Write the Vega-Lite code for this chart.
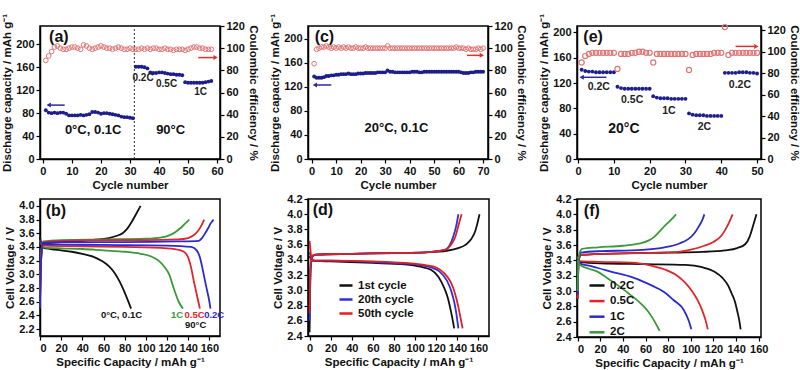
{
"$schema":"https://vega.github.io/schema/vega-lite/v6.json",
"background":"white",
"padding":{"left":0,"top":12,"right":0,"bottom":0},
"bounds":"flush",
"columns":3,
"spacing":{"row":40,"column":88},
"resolve":{"scale":{"color":"independent","x":"independent","y":"independent"}},
"concat":[
{
 "width":180,"height":133,
 "encoding":{"x":{"field":"c","type":"quantitative","scale":{"domain":[-1,61],"nice":false},"axis":{"values":[0,10,20,30,40,50,60],"title":"Cycle number"}}},
 "layer":[
  {"encoding":{"y":{"field":"v","type":"quantitative","scale":{"domain":[0,232],"nice":false},"axis":{"orient":"left","values":[0,40,80,120,160,200],"title":"Discharge capacity / mAh g⁻¹"}}},
   "layer":[
    {"data":{"values":[{"c":31.5,"v":0,"v2":232}]},"mark":{"type":"rule","strokeDash":[2,2],"color":"#333","strokeWidth":1},"encoding":{"y2":{"field":"v2"}}},
    {"data":{"values":[{"c":1,"v":85},{"c":2,"v":81},{"c":3,"v":80},{"c":4,"v":81},{"c":5,"v":80},{"c":6,"v":81},{"c":7,"v":81},{"c":8,"v":79},{"c":9,"v":76},{"c":10,"v":76},{"c":11,"v":76},{"c":12,"v":76},{"c":13,"v":77},{"c":14,"v":76},{"c":15,"v":77},{"c":16,"v":78},{"c":17,"v":82},{"c":18,"v":82},{"c":19,"v":81},{"c":20,"v":79},{"c":21,"v":80},{"c":22,"v":80},{"c":23,"v":79},{"c":24,"v":78},{"c":25,"v":77},{"c":26,"v":76},{"c":27,"v":74},{"c":28,"v":73},{"c":29,"v":73},{"c":30,"v":72},{"c":31,"v":71},
      {"c":32,"v":161},{"c":33,"v":161},{"c":34,"v":161},{"c":35,"v":160},{"c":36,"v":158},{"c":37,"v":151},{"c":38,"v":150},{"c":39,"v":150},{"c":40,"v":151},{"c":41,"v":151},{"c":42,"v":150},{"c":43,"v":149},{"c":44,"v":148},{"c":45,"v":148},{"c":46,"v":147},{"c":47,"v":147},{"c":48,"v":146},{"c":49,"v":134},{"c":50,"v":133},{"c":51,"v":133},{"c":52,"v":133},{"c":53,"v":133},{"c":54,"v":133},{"c":55,"v":133},{"c":56,"v":134},{"c":57,"v":135},{"c":58,"v":136}]},
     "mark":{"type":"circle","color":"#1d1d8c","size":15,"opacity":1}},
    {"data":{"values":[{"c":2,"c2":7.5,"v":94}]},"mark":{"type":"rule","color":"#2a2aa0","strokeWidth":1.5},"encoding":{"x2":{"field":"c2"}}},
    {"data":{"values":[{"c":2,"v":94}]},"mark":{"type":"point","shape":"triangle-left","filled":true,"color":"#2a2aa0","size":25,"opacity":1}},
    {"data":{"values":[{"c":5.5,"v":212,"t":"(a)"}]},"mark":{"type":"text","fontSize":16,"fontWeight":"bold","color":"#111"},"encoding":{"text":{"field":"t"}}},
    {"data":{"values":[{"c":17.3,"v":51,"t":"0°C, 0.1C"},{"c":44,"v":51,"t":"90°C"}]},"mark":{"type":"text","fontSize":13,"fontWeight":"bold","color":"#111"},"encoding":{"text":{"field":"t"}}},
    {"data":{"values":[{"c":34.5,"v":141,"t":"0.2C"},{"c":42.6,"v":131,"t":"0.5C"},{"c":54.3,"v":117,"t":"1C"}]},"mark":{"type":"text","fontSize":10,"fontWeight":"bold","color":"#222"},"encoding":{"text":{"field":"t"}}}
   ]},
  {"encoding":{"y":{"field":"e","type":"quantitative","scale":{"domain":[0,120],"nice":false},"axis":{"orient":"right","values":[0,20,40,60,80,100,120],"title":"Coulombic efficiency / %"}}},
   "layer":[
    {"data":{"values":[{"c":1,"e":89},{"c":2,"e":93},{"c":3,"e":97},{"c":4,"e":101},{"c":5,"e":102},{"c":6,"e":100},{"c":7,"e":99},{"c":8,"e":99},{"c":9,"e":100},{"c":10,"e":101},{"c":11,"e":101},{"c":12,"e":100},{"c":13,"e":99},{"c":14,"e":103},{"c":15,"e":102},{"c":16,"e":100},{"c":17,"e":99},{"c":18,"e":100},{"c":19,"e":101},{"c":20,"e":102},{"c":21,"e":101},{"c":22,"e":100},{"c":23,"e":100},{"c":24,"e":99},{"c":25,"e":100},{"c":26,"e":101},{"c":27,"e":100},{"c":28,"e":99},{"c":29,"e":99},{"c":30,"e":100},{"c":31,"e":99},{"c":32,"e":99},{"c":33,"e":99},{"c":34,"e":100},{"c":35,"e":99},{"c":36,"e":100},{"c":37,"e":99},{"c":38,"e":100},{"c":39,"e":100},{"c":40,"e":99},{"c":41,"e":99},{"c":42,"e":100},{"c":43,"e":99},{"c":44,"e":99},{"c":45,"e":98},{"c":46,"e":99},{"c":47,"e":99},{"c":48,"e":99},{"c":49,"e":98},{"c":50,"e":99},{"c":51,"e":100},{"c":52,"e":101},{"c":53,"e":101},{"c":54,"e":100},{"c":55,"e":100},{"c":56,"e":99},{"c":57,"e":99},{"c":58,"e":99}]},
     "mark":{"type":"point","shape":"circle","filled":false,"color":"#e07575","size":22,"strokeWidth":1,"opacity":1}},
    {"data":{"values":[{"c":53.5,"c2":59,"e":91.5}]},"mark":{"type":"rule","color":"#e03030","strokeWidth":1.5},"encoding":{"x2":{"field":"c2"}}},
    {"data":{"values":[{"c":59.5,"e":91.5}]},"mark":{"type":"point","shape":"triangle-right","filled":true,"color":"#e03030","size":25,"opacity":1}}
   ]}
 ],
 "resolve":{"scale":{"y":"independent"}}
},
{
 "width":180,"height":133,
 "encoding":{"x":{"field":"c","type":"quantitative","scale":{"domain":[-1.5,72],"nice":false},"axis":{"values":[0,10,20,30,40,50,60,70],"title":"Cycle number"}}},
 "layer":[
  {"encoding":{"y":{"field":"v","type":"quantitative","scale":{"domain":[0,221],"nice":false},"axis":{"orient":"left","values":[0,40,80,120,160,200],"title":"Discharge capacity / mAh g⁻¹"}}},
   "layer":[
    {"data":{"values":[{"c":1,"v":137},{"c":2,"v":135},{"c":3,"v":135},{"c":4,"v":135},{"c":5,"v":136},{"c":6,"v":138},{"c":7,"v":138},{"c":8,"v":139},{"c":9,"v":139},{"c":10,"v":140},{"c":11,"v":140},{"c":12,"v":141},{"c":13,"v":141},{"c":14,"v":141},{"c":15,"v":142},{"c":16,"v":141},{"c":17,"v":141},{"c":18,"v":141},{"c":19,"v":142},{"c":20,"v":142},{"c":21,"v":142},{"c":22,"v":143},{"c":23,"v":143},{"c":24,"v":143},{"c":25,"v":143},{"c":26,"v":143},{"c":27,"v":144},{"c":28,"v":144},{"c":29,"v":144},{"c":30,"v":144},{"c":31,"v":147},{"c":32,"v":145},{"c":33,"v":145},{"c":34,"v":144},{"c":35,"v":144},{"c":36,"v":144},{"c":37,"v":144},{"c":38,"v":144},{"c":39,"v":144},{"c":40,"v":144},{"c":41,"v":145},{"c":42,"v":145},{"c":43,"v":145},{"c":44,"v":144},{"c":45,"v":144},{"c":46,"v":145},{"c":47,"v":145},{"c":48,"v":145},{"c":49,"v":145},{"c":50,"v":145},{"c":51,"v":145},{"c":52,"v":145},{"c":53,"v":145},{"c":54,"v":145},{"c":55,"v":145},{"c":56,"v":145},{"c":57,"v":145},{"c":58,"v":145},{"c":59,"v":145},{"c":60,"v":145},{"c":61,"v":144},{"c":62,"v":143},{"c":63,"v":143},{"c":64,"v":143},{"c":65,"v":144},{"c":66,"v":144},{"c":67,"v":145},{"c":68,"v":145},{"c":69,"v":145},{"c":70,"v":145}]},
     "mark":{"type":"circle","color":"#1d1d8c","size":15,"opacity":1}},
    {"data":{"values":[{"c":1.5,"c2":8,"v":123}]},"mark":{"type":"rule","color":"#2a2aa0","strokeWidth":1.5},"encoding":{"x2":{"field":"c2"}}},
    {"data":{"values":[{"c":1.3,"v":123}]},"mark":{"type":"point","shape":"triangle-left","filled":true,"color":"#2a2aa0","size":25,"opacity":1}},
    {"data":{"values":[{"c":5.2,"v":203,"t":"(c)"}]},"mark":{"type":"text","fontSize":16,"fontWeight":"bold","color":"#111"},"encoding":{"text":{"field":"t"}}},
    {"data":{"values":[{"c":34.6,"v":52,"t":"20°C, 0.1C"}]},"mark":{"type":"text","fontSize":13,"fontWeight":"bold","color":"#111"},"encoding":{"text":{"field":"t"}}}
   ]},
  {"encoding":{"y":{"field":"e","type":"quantitative","scale":{"domain":[0,120],"nice":false},"axis":{"orient":"right","values":[0,20,40,60,80,100,120],"title":"Coulombic efficiency / %"}}},
   "layer":[
    {"data":{"values":[{"c":1,"e":86},{"c":2,"e":99},{"c":3,"e":100},{"c":4,"e":101},{"c":5,"e":101},{"c":6,"e":102},{"c":7,"e":101},{"c":8,"e":100},{"c":9,"e":101},{"c":10,"e":100},{"c":11,"e":101},{"c":12,"e":100},{"c":13,"e":101},{"c":14,"e":100},{"c":15,"e":101},{"c":16,"e":100},{"c":17,"e":100},{"c":18,"e":101},{"c":19,"e":100},{"c":20,"e":100},{"c":21,"e":100},{"c":22,"e":101},{"c":23,"e":100},{"c":24,"e":100},{"c":25,"e":100},{"c":26,"e":100},{"c":27,"e":100},{"c":28,"e":100},{"c":29,"e":100},{"c":30,"e":100},{"c":31,"e":102},{"c":32,"e":100},{"c":33,"e":100},{"c":34,"e":100},{"c":35,"e":100},{"c":36,"e":100},{"c":37,"e":100},{"c":38,"e":100},{"c":39,"e":100},{"c":40,"e":100},{"c":41,"e":100},{"c":42,"e":100},{"c":43,"e":100},{"c":44,"e":100},{"c":45,"e":100},{"c":46,"e":100},{"c":47,"e":100},{"c":48,"e":100},{"c":49,"e":100},{"c":50,"e":100},{"c":51,"e":100},{"c":52,"e":100},{"c":53,"e":100},{"c":54,"e":100},{"c":55,"e":100},{"c":56,"e":100},{"c":57,"e":100},{"c":58,"e":100},{"c":59,"e":101},{"c":60,"e":100},{"c":61,"e":100},{"c":62,"e":100},{"c":63,"e":99},{"c":64,"e":100},{"c":65,"e":99},{"c":66,"e":99},{"c":67,"e":99},{"c":68,"e":100},{"c":69,"e":99},{"c":70,"e":100}]},
     "mark":{"type":"point","shape":"circle","filled":false,"color":"#e07575","size":22,"strokeWidth":1,"opacity":1}},
    {"data":{"values":[{"c":63.4,"c2":69,"e":93.5}]},"mark":{"type":"rule","color":"#e03030","strokeWidth":1.5},"encoding":{"x2":{"field":"c2"}}},
    {"data":{"values":[{"c":69.5,"e":93.5}]},"mark":{"type":"point","shape":"triangle-right","filled":true,"color":"#e03030","size":25,"opacity":1}}
   ]}
 ],
 "resolve":{"scale":{"y":"independent"}}
},
{
 "width":184,"height":133,
 "encoding":{"x":{"field":"c","type":"quantitative","scale":{"domain":[-0.3,51.1],"nice":false},"axis":{"values":[0,10,20,30,40,50],"title":"Cycle number"}}},
 "layer":[
  {"encoding":{"y":{"field":"v","type":"quantitative","scale":{"domain":[0,210],"nice":false},"axis":{"orient":"left","values":[0,40,80,120,160,200],"title":"Discharge capacity / mAh g⁻¹"}}},
   "layer":[
    {"data":{"values":[{"c":1,"v":141},{"c":2,"v":139},{"c":3,"v":138},{"c":4,"v":138},{"c":5,"v":137},{"c":6,"v":137},{"c":7,"v":137},{"c":8,"v":137},{"c":9,"v":137},{"c":10,"v":137},{"c":11,"v":114},{"c":12,"v":112},{"c":13,"v":111},{"c":14,"v":111},{"c":15,"v":111},{"c":16,"v":111},{"c":17,"v":111},{"c":18,"v":111},{"c":19,"v":111},{"c":20,"v":111},{"c":21,"v":99},{"c":22,"v":97},{"c":23,"v":96},{"c":24,"v":96},{"c":25,"v":96},{"c":26,"v":95},{"c":27,"v":95},{"c":28,"v":95},{"c":29,"v":95},{"c":30,"v":95},{"c":31,"v":72},{"c":32,"v":70},{"c":33,"v":69},{"c":34,"v":69},{"c":35,"v":69},{"c":36,"v":68},{"c":37,"v":68},{"c":38,"v":68},{"c":39,"v":68},{"c":40,"v":68},{"c":41,"v":136},{"c":42,"v":136},{"c":43,"v":136},{"c":44,"v":136},{"c":45,"v":137},{"c":46,"v":137},{"c":47,"v":137},{"c":48,"v":136},{"c":49,"v":136},{"c":50,"v":135}]},
     "mark":{"type":"circle","color":"#1d1d8c","size":15,"opacity":1}},
    {"data":{"values":[{"c":1.2,"c2":7.9,"v":129}]},"mark":{"type":"rule","color":"#2a2aa0","strokeWidth":1.5},"encoding":{"x2":{"field":"c2"}}},
    {"data":{"values":[{"c":1,"v":129}]},"mark":{"type":"point","shape":"triangle-left","filled":true,"color":"#2a2aa0","size":25,"opacity":1}},
    {"data":{"values":[{"c":4.2,"v":193,"t":"(e)"}]},"mark":{"type":"text","fontSize":16,"fontWeight":"bold","color":"#111"},"encoding":{"text":{"field":"t"}}},
    {"data":{"values":[{"c":12.8,"v":48,"t":"20°C"}]},"mark":{"type":"text","fontSize":14,"fontWeight":"bold","color":"#111"},"encoding":{"text":{"field":"t"}}},
    {"data":{"values":[{"c":5.8,"v":113,"t":"0.2C"},{"c":15.1,"v":93,"t":"0.5C"},{"c":25.4,"v":76,"t":"1C"},{"c":35.3,"v":50,"t":"2C"},{"c":45.2,"v":117,"t":"0.2C"}]},"mark":{"type":"text","fontSize":10.5,"fontWeight":"bold","color":"#222"},"encoding":{"text":{"field":"t"}}}
   ]},
  {"encoding":{"y":{"field":"e","type":"quantitative","scale":{"domain":[0,124],"nice":false},"axis":{"orient":"right","values":[0,20,40,60,80,100,120],"title":"Coulombic efficiency / %"}}},
   "layer":[
    {"data":{"values":[{"c":1,"e":90},{"c":2,"e":96},{"c":3,"e":98},{"c":4,"e":99},{"c":5,"e":99},{"c":6,"e":99},{"c":7,"e":99},{"c":8,"e":99},{"c":9,"e":99},{"c":10,"e":99},{"c":11,"e":84},{"c":12,"e":98},{"c":13,"e":98},{"c":14,"e":98},{"c":15,"e":99},{"c":16,"e":99},{"c":17,"e":100},{"c":18,"e":100},{"c":19,"e":99},{"c":20,"e":99},{"c":21,"e":90},{"c":22,"e":98},{"c":23,"e":98},{"c":24,"e":98},{"c":25,"e":98},{"c":26,"e":98},{"c":27,"e":98},{"c":28,"e":98},{"c":29,"e":98},{"c":30,"e":98},{"c":31,"e":83},{"c":32,"e":97},{"c":33,"e":98},{"c":34,"e":98},{"c":35,"e":98},{"c":36,"e":98},{"c":37,"e":98},{"c":38,"e":99},{"c":39,"e":99},{"c":40,"e":99},{"c":41,"e":123},{"c":42,"e":97},{"c":43,"e":99},{"c":44,"e":99},{"c":45,"e":99},{"c":46,"e":99},{"c":47,"e":99},{"c":48,"e":99},{"c":49,"e":99},{"c":50,"e":99}]},
     "mark":{"type":"point","shape":"circle","filled":false,"color":"#e07575","size":26,"strokeWidth":1.2,"opacity":1}},
    {"data":{"values":[{"c":44,"c2":49.3,"e":105}]},"mark":{"type":"rule","color":"#e03030","strokeWidth":1.5},"encoding":{"x2":{"field":"c2"}}},
    {"data":{"values":[{"c":49.8,"e":105}]},"mark":{"type":"point","shape":"triangle-right","filled":true,"color":"#e03030","size":25,"opacity":1}}
   ]}
 ],
 "resolve":{"scale":{"y":"independent"}}
},
{
 "width":180,"height":137,
 "encoding":{
  "x":{"field":"x","type":"quantitative","scale":{"domain":[0,170],"nice":false},"axis":{"values":[0,20,40,60,80,100,120,140,160],"title":"Specific Capacity / mAh g⁻¹"}},
  "y":{"field":"y","type":"quantitative","scale":{"domain":[2.1,4.1],"nice":false,"zero":false},"axis":{"values":[2.2,2.4,2.6,2.8,3.0,3.2,3.4,3.6,3.8,4.0],"format":".1f","title":"Cell Voltage / V"}}},
 "layer":[
  {"data":{"values":[
   {"x":0,"y":2.6,"s":"0°C, 0.1C","k":"kc"},{"x":1,"y":3.2,"s":"0°C, 0.1C","k":"kc"},{"x":3,"y":3.44,"s":"0°C, 0.1C","k":"kc"},{"x":10,"y":3.46,"s":"0°C, 0.1C","k":"kc"},{"x":20,"y":3.47,"s":"0°C, 0.1C","k":"kc"},{"x":40,"y":3.49,"s":"0°C, 0.1C","k":"kc"},{"x":55,"y":3.51,"s":"0°C, 0.1C","k":"kc"},{"x":65,"y":3.53,"s":"0°C, 0.1C","k":"kc"},{"x":72,"y":3.56,"s":"0°C, 0.1C","k":"kc"},{"x":78,"y":3.6,"s":"0°C, 0.1C","k":"kc"},{"x":82,"y":3.66,"s":"0°C, 0.1C","k":"kc"},{"x":86,"y":3.75,"s":"0°C, 0.1C","k":"kc"},{"x":90,"y":3.86,"s":"0°C, 0.1C","k":"kc"},{"x":95,"y":4.0,"s":"0°C, 0.1C","k":"kc"},
   {"x":0,"y":3.55,"s":"0°C, 0.1C","k":"kd"},{"x":1,"y":3.45,"s":"0°C, 0.1C","k":"kd"},{"x":3,"y":3.39,"s":"0°C, 0.1C","k":"kd"},{"x":10,"y":3.37,"s":"0°C, 0.1C","k":"kd"},{"x":20,"y":3.35,"s":"0°C, 0.1C","k":"kd"},{"x":30,"y":3.33,"s":"0°C, 0.1C","k":"kd"},{"x":40,"y":3.3,"s":"0°C, 0.1C","k":"kd"},{"x":50,"y":3.26,"s":"0°C, 0.1C","k":"kd"},{"x":58,"y":3.2,"s":"0°C, 0.1C","k":"kd"},{"x":65,"y":3.12,"s":"0°C, 0.1C","k":"kd"},{"x":70,"y":3.03,"s":"0°C, 0.1C","k":"kd"},{"x":75,"y":2.9,"s":"0°C, 0.1C","k":"kd"},{"x":79,"y":2.77,"s":"0°C, 0.1C","k":"kd"},{"x":83,"y":2.62,"s":"0°C, 0.1C","k":"kd"},{"x":86,"y":2.5,"s":"0°C, 0.1C","k":"kd"},
   {"x":0,"y":2.7,"s":"1C","k":"gc"},{"x":1,"y":3.3,"s":"1C","k":"gc"},{"x":3,"y":3.48,"s":"1C","k":"gc"},{"x":20,"y":3.5,"s":"1C","k":"gc"},{"x":60,"y":3.51,"s":"1C","k":"gc"},{"x":100,"y":3.52,"s":"1C","k":"gc"},{"x":115,"y":3.54,"s":"1C","k":"gc"},{"x":122,"y":3.57,"s":"1C","k":"gc"},{"x":128,"y":3.62,"s":"1C","k":"gc"},{"x":133,"y":3.68,"s":"1C","k":"gc"},{"x":137,"y":3.74,"s":"1C","k":"gc"},{"x":141,"y":3.8,"s":"1C","k":"gc"},
   {"x":0,"y":3.5,"s":"1C","k":"gd"},{"x":2,"y":3.42,"s":"1C","k":"gd"},{"x":5,"y":3.39,"s":"1C","k":"gd"},{"x":20,"y":3.38,"s":"1C","k":"gd"},{"x":40,"y":3.37,"s":"1C","k":"gd"},{"x":60,"y":3.35,"s":"1C","k":"gd"},{"x":80,"y":3.33,"s":"1C","k":"gd"},{"x":95,"y":3.3,"s":"1C","k":"gd"},{"x":105,"y":3.26,"s":"1C","k":"gd"},{"x":112,"y":3.2,"s":"1C","k":"gd"},{"x":118,"y":3.1,"s":"1C","k":"gd"},{"x":122,"y":3.0,"s":"1C","k":"gd"},{"x":125,"y":2.86,"s":"1C","k":"gd"},{"x":128,"y":2.72,"s":"1C","k":"gd"},{"x":131,"y":2.6,"s":"1C","k":"gd"},{"x":135,"y":2.5,"s":"1C","k":"gd"},
   {"x":0,"y":2.6,"s":"0.5C","k":"rc"},{"x":1,"y":3.3,"s":"0.5C","k":"rc"},{"x":3,"y":3.47,"s":"0.5C","k":"rc"},{"x":20,"y":3.49,"s":"0.5C","k":"rc"},{"x":60,"y":3.5,"s":"0.5C","k":"rc"},{"x":100,"y":3.5,"s":"0.5C","k":"rc"},{"x":130,"y":3.51,"s":"0.5C","k":"rc"},{"x":140,"y":3.53,"s":"0.5C","k":"rc"},{"x":145,"y":3.57,"s":"0.5C","k":"rc"},{"x":149,"y":3.63,"s":"0.5C","k":"rc"},{"x":152,"y":3.7,"s":"0.5C","k":"rc"},{"x":155,"y":3.8,"s":"0.5C","k":"rc"},
   {"x":0,"y":3.5,"s":"0.5C","k":"rd"},{"x":2,"y":3.44,"s":"0.5C","k":"rd"},{"x":5,"y":3.42,"s":"0.5C","k":"rd"},{"x":40,"y":3.41,"s":"0.5C","k":"rd"},{"x":80,"y":3.4,"s":"0.5C","k":"rd"},{"x":120,"y":3.38,"s":"0.5C","k":"rd"},{"x":133,"y":3.35,"s":"0.5C","k":"rd"},{"x":138,"y":3.3,"s":"0.5C","k":"rd"},{"x":141,"y":3.2,"s":"0.5C","k":"rd"},{"x":143,"y":3.08,"s":"0.5C","k":"rd"},{"x":145,"y":2.92,"s":"0.5C","k":"rd"},{"x":147,"y":2.78,"s":"0.5C","k":"rd"},{"x":149,"y":2.64,"s":"0.5C","k":"rd"},{"x":151,"y":2.5,"s":"0.5C","k":"rd"},
   {"x":0,"y":2.5,"s":"0.2C","k":"bc"},{"x":1,"y":3.2,"s":"0.2C","k":"bc"},{"x":3,"y":3.46,"s":"0.2C","k":"bc"},{"x":20,"y":3.47,"s":"0.2C","k":"bc"},{"x":80,"y":3.47,"s":"0.2C","k":"bc"},{"x":130,"y":3.48,"s":"0.2C","k":"bc"},{"x":150,"y":3.49,"s":"0.2C","k":"bc"},{"x":153,"y":3.53,"s":"0.2C","k":"bc"},{"x":156,"y":3.6,"s":"0.2C","k":"bc"},{"x":159,"y":3.68,"s":"0.2C","k":"bc"},{"x":161,"y":3.74,"s":"0.2C","k":"bc"},{"x":164,"y":3.8,"s":"0.2C","k":"bc"},
   {"x":0,"y":3.5,"s":"0.2C","k":"bd"},{"x":2,"y":3.45,"s":"0.2C","k":"bd"},{"x":5,"y":3.44,"s":"0.2C","k":"bd"},{"x":60,"y":3.43,"s":"0.2C","k":"bd"},{"x":120,"y":3.42,"s":"0.2C","k":"bd"},{"x":143,"y":3.4,"s":"0.2C","k":"bd"},{"x":148,"y":3.35,"s":"0.2C","k":"bd"},{"x":151,"y":3.25,"s":"0.2C","k":"bd"},{"x":153,"y":3.12,"s":"0.2C","k":"bd"},{"x":155,"y":2.97,"s":"0.2C","k":"bd"},{"x":157,"y":2.82,"s":"0.2C","k":"bd"},{"x":159,"y":2.68,"s":"0.2C","k":"bd"},{"x":160,"y":2.6,"s":"0.2C","k":"bd"},{"x":161,"y":2.5,"s":"0.2C","k":"bd"}
  ]},
   "mark":{"type":"line","strokeWidth":1.8,"interpolate":"monotone"},
   "encoding":{"color":{"field":"s","type":"nominal","scale":{"domain":["0°C, 0.1C","1C","0.5C","0.2C"],"range":["#111111","#3a9a3a","#e0262b","#2a2ad0"]},"legend":null},"detail":{"field":"k"}}},
  {"data":{"values":[{"x":15,"y":3.93,"t":"(b)"}]},"mark":{"type":"text","fontSize":16,"fontWeight":"bold","color":"#111"},"encoding":{"text":{"field":"t"}}},
  {"data":{"values":[{"x":77,"y":2.4,"t":"0°C, 0.1C","s":"0°C, 0.1C"},{"x":129.5,"y":2.4,"t":"1C","s":"1C"},{"x":146,"y":2.4,"t":"0.5C","s":"0.5C"},{"x":164.5,"y":2.4,"t":"0.2C","s":"0.2C"},{"x":147,"y":2.26,"t":"90°C","s":"0°C, 0.1C"}]},
   "mark":{"type":"text","fontSize":9.5,"fontWeight":"bold"},
   "encoding":{"text":{"field":"t"},"color":{"field":"s","type":"nominal","scale":{"domain":["0°C, 0.1C","1C","0.5C","0.2C"],"range":["#111111","#3a9a3a","#e0262b","#2a2ad0"]},"legend":null}}}
 ]
},
{
 "width":181,"height":137,
 "encoding":{
  "x":{"field":"x","type":"quantitative","scale":{"domain":[-1.5,170],"nice":false,"zero":false},"axis":{"values":[0,20,40,60,80,100,120,140,160],"title":"Specific Capacity / mAh g⁻¹"}},
  "y":{"field":"y","type":"quantitative","scale":{"domain":[2.4,4.2],"nice":false,"zero":false},"axis":{"values":[2.4,2.6,2.8,3.0,3.2,3.4,3.6,3.8,4.0,4.2],"format":".1f","title":"Cell Voltage / V"}}},
 "layer":[
  {"data":{"values":[
   {"x":0,"y":2.45,"s":"1st cycle","k":"kc"},{"x":1,"y":3.3,"s":"1st cycle","k":"kc"},{"x":3,"y":3.45,"s":"1st cycle","k":"kc"},{"x":6,"y":3.47,"s":"1st cycle","k":"kc"},{"x":40,"y":3.48,"s":"1st cycle","k":"kc"},{"x":80,"y":3.49,"s":"1st cycle","k":"kc"},{"x":110,"y":3.5,"s":"1st cycle","k":"kc"},{"x":130,"y":3.52,"s":"1st cycle","k":"kc"},{"x":140,"y":3.55,"s":"1st cycle","k":"kc"},{"x":148,"y":3.6,"s":"1st cycle","k":"kc"},{"x":153,"y":3.67,"s":"1st cycle","k":"kc"},{"x":157,"y":3.78,"s":"1st cycle","k":"kc"},{"x":159,"y":3.88,"s":"1st cycle","k":"kc"},{"x":161,"y":4.0,"s":"1st cycle","k":"kc"},
   {"x":0,"y":3.45,"s":"1st cycle","k":"kd"},{"x":3,"y":3.39,"s":"1st cycle","k":"kd"},{"x":20,"y":3.38,"s":"1st cycle","k":"kd"},{"x":60,"y":3.36,"s":"1st cycle","k":"kd"},{"x":90,"y":3.34,"s":"1st cycle","k":"kd"},{"x":105,"y":3.31,"s":"1st cycle","k":"kd"},{"x":115,"y":3.27,"s":"1st cycle","k":"kd"},{"x":122,"y":3.18,"s":"1st cycle","k":"kd"},{"x":127,"y":3.05,"s":"1st cycle","k":"kd"},{"x":131,"y":2.9,"s":"1st cycle","k":"kd"},{"x":134,"y":2.72,"s":"1st cycle","k":"kd"},{"x":136,"y":2.58,"s":"1st cycle","k":"kd"},{"x":137,"y":2.5,"s":"1st cycle","k":"kd"},
   {"x":0,"y":2.6,"s":"20th cycle","k":"bc"},{"x":1,"y":3.3,"s":"20th cycle","k":"bc"},{"x":3,"y":3.45,"s":"20th cycle","k":"bc"},{"x":6,"y":3.47,"s":"20th cycle","k":"bc"},{"x":40,"y":3.48,"s":"20th cycle","k":"bc"},{"x":80,"y":3.49,"s":"20th cycle","k":"bc"},{"x":110,"y":3.5,"s":"20th cycle","k":"bc"},{"x":128,"y":3.53,"s":"20th cycle","k":"bc"},{"x":133,"y":3.6,"s":"20th cycle","k":"bc"},{"x":136,"y":3.7,"s":"20th cycle","k":"bc"},{"x":139,"y":3.85,"s":"20th cycle","k":"bc"},{"x":141,"y":4.0,"s":"20th cycle","k":"bc"},
   {"x":0,"y":3.5,"s":"20th cycle","k":"bd"},{"x":3,"y":3.39,"s":"20th cycle","k":"bd"},{"x":20,"y":3.39,"s":"20th cycle","k":"bd"},{"x":60,"y":3.37,"s":"20th cycle","k":"bd"},{"x":90,"y":3.35,"s":"20th cycle","k":"bd"},{"x":105,"y":3.33,"s":"20th cycle","k":"bd"},{"x":115,"y":3.3,"s":"20th cycle","k":"bd"},{"x":123,"y":3.25,"s":"20th cycle","k":"bd"},{"x":130,"y":3.13,"s":"20th cycle","k":"bd"},{"x":134,"y":3.0,"s":"20th cycle","k":"bd"},{"x":137,"y":2.85,"s":"20th cycle","k":"bd"},{"x":139,"y":2.7,"s":"20th cycle","k":"bd"},{"x":140,"y":2.6,"s":"20th cycle","k":"bd"},{"x":141,"y":2.5,"s":"20th cycle","k":"bd"},
   {"x":0,"y":2.7,"s":"50th cycle","k":"rc"},{"x":1,"y":3.35,"s":"50th cycle","k":"rc"},{"x":3,"y":3.46,"s":"50th cycle","k":"rc"},{"x":6,"y":3.47,"s":"50th cycle","k":"rc"},{"x":40,"y":3.48,"s":"50th cycle","k":"rc"},{"x":80,"y":3.49,"s":"50th cycle","k":"rc"},{"x":110,"y":3.5,"s":"50th cycle","k":"rc"},{"x":128,"y":3.53,"s":"50th cycle","k":"rc"},{"x":134,"y":3.6,"s":"50th cycle","k":"rc"},{"x":138,"y":3.7,"s":"50th cycle","k":"rc"},{"x":141,"y":3.85,"s":"50th cycle","k":"rc"},{"x":144,"y":4.0,"s":"50th cycle","k":"rc"},
   {"x":0,"y":3.65,"s":"50th cycle","k":"rd"},{"x":2,"y":3.42,"s":"50th cycle","k":"rd"},{"x":5,"y":3.39,"s":"50th cycle","k":"rd"},{"x":20,"y":3.39,"s":"50th cycle","k":"rd"},{"x":60,"y":3.38,"s":"50th cycle","k":"rd"},{"x":90,"y":3.36,"s":"50th cycle","k":"rd"},{"x":110,"y":3.33,"s":"50th cycle","k":"rd"},{"x":120,"y":3.3,"s":"50th cycle","k":"rd"},{"x":128,"y":3.22,"s":"50th cycle","k":"rd"},{"x":134,"y":3.1,"s":"50th cycle","k":"rd"},{"x":138,"y":2.95,"s":"50th cycle","k":"rd"},{"x":141,"y":2.78,"s":"50th cycle","k":"rd"},{"x":143,"y":2.64,"s":"50th cycle","k":"rd"},{"x":145,"y":2.5,"s":"50th cycle","k":"rd"}
  ]},
   "mark":{"type":"line","strokeWidth":1.8,"interpolate":"monotone"},
   "encoding":{"color":{"field":"s","type":"nominal","scale":{"domain":["1st cycle","20th cycle","50th cycle"],"range":["#111111","#3030d8","#e02020"]},
     "legend":{"orient":"none","legendX":30,"legendY":78.5,"title":null,"symbolType":"stroke","symbolStrokeWidth":2.5,"symbolSize":170,"labelFontSize":11.5,"labelFontWeight":"bold","labelFont":"Liberation Sans","labelColor":"#111","rowPadding":0,"padding":0,"labelOffset":4}},
    "detail":{"field":"k"}}},
  {"data":{"values":[{"x":12.6,"y":4.05,"t":"(d)"}]},"mark":{"type":"text","fontSize":16,"fontWeight":"bold","color":"#111"},"encoding":{"text":{"field":"t"}}}
 ]
},
{
 "width":184,"height":138,
 "encoding":{
  "x":{"field":"x","type":"quantitative","scale":{"domain":[-0.5,162],"nice":false,"zero":false},"axis":{"values":[0,20,40,60,80,100,120,140,160],"title":"Specific Capacity / mAh g⁻¹"}},
  "y":{"field":"y","type":"quantitative","scale":{"domain":[2.4,4.2],"nice":false,"zero":false},"axis":{"values":[2.4,2.6,2.8,3.0,3.2,3.4,3.6,3.8,4.0,4.2],"format":".1f","title":"Cell Voltage / V"}}},
 "layer":[
  {"data":{"values":[
   {"x":0,"y":2.9,"s":"0.2C","k":"kc"},{"x":1,"y":3.4,"s":"0.2C","k":"kc"},{"x":3,"y":3.47,"s":"0.2C","k":"kc"},{"x":40,"y":3.49,"s":"0.2C","k":"kc"},{"x":80,"y":3.5,"s":"0.2C","k":"kc"},{"x":110,"y":3.51,"s":"0.2C","k":"kc"},{"x":130,"y":3.53,"s":"0.2C","k":"kc"},{"x":141,"y":3.56,"s":"0.2C","k":"kc"},{"x":148,"y":3.61,"s":"0.2C","k":"kc"},{"x":152,"y":3.71,"s":"0.2C","k":"kc"},{"x":155,"y":3.85,"s":"0.2C","k":"kc"},{"x":158,"y":4.0,"s":"0.2C","k":"kc"},
   {"x":0,"y":3.45,"s":"0.2C","k":"kd"},{"x":2,"y":3.38,"s":"0.2C","k":"kd"},{"x":20,"y":3.36,"s":"0.2C","k":"kd"},{"x":60,"y":3.35,"s":"0.2C","k":"kd"},{"x":95,"y":3.34,"s":"0.2C","k":"kd"},{"x":110,"y":3.31,"s":"0.2C","k":"kd"},{"x":121,"y":3.25,"s":"0.2C","k":"kd"},{"x":128,"y":3.17,"s":"0.2C","k":"kd"},{"x":133,"y":3.07,"s":"0.2C","k":"kd"},{"x":136,"y":2.97,"s":"0.2C","k":"kd"},{"x":139,"y":2.86,"s":"0.2C","k":"kd"},{"x":141,"y":2.74,"s":"0.2C","k":"kd"},{"x":143,"y":2.6,"s":"0.2C","k":"kd"},{"x":144,"y":2.5,"s":"0.2C","k":"kd"},
   {"x":0,"y":2.9,"s":"0.5C","k":"rc"},{"x":1,"y":3.4,"s":"0.5C","k":"rc"},{"x":3,"y":3.47,"s":"0.5C","k":"rc"},{"x":40,"y":3.49,"s":"0.5C","k":"rc"},{"x":70,"y":3.5,"s":"0.5C","k":"rc"},{"x":89,"y":3.51,"s":"0.5C","k":"rc"},{"x":100,"y":3.54,"s":"0.5C","k":"rc"},{"x":112,"y":3.59,"s":"0.5C","k":"rc"},{"x":120,"y":3.64,"s":"0.5C","k":"rc"},{"x":127,"y":3.72,"s":"0.5C","k":"rc"},{"x":132,"y":3.84,"s":"0.5C","k":"rc"},{"x":137,"y":4.0,"s":"0.5C","k":"rc"},
   {"x":0,"y":3.45,"s":"0.5C","k":"rd"},{"x":2,"y":3.39,"s":"0.5C","k":"rd"},{"x":20,"y":3.38,"s":"0.5C","k":"rd"},{"x":48,"y":3.37,"s":"0.5C","k":"rd"},{"x":65,"y":3.33,"s":"0.5C","k":"rd"},{"x":77,"y":3.28,"s":"0.5C","k":"rd"},{"x":88,"y":3.2,"s":"0.5C","k":"rd"},{"x":95,"y":3.11,"s":"0.5C","k":"rd"},{"x":101,"y":3.0,"s":"0.5C","k":"rd"},{"x":106,"y":2.88,"s":"0.5C","k":"rd"},{"x":110,"y":2.75,"s":"0.5C","k":"rd"},{"x":113,"y":2.62,"s":"0.5C","k":"rd"},{"x":115,"y":2.5,"s":"0.5C","k":"rd"},
   {"x":0,"y":2.95,"s":"1C","k":"bc"},{"x":1,"y":3.4,"s":"1C","k":"bc"},{"x":3,"y":3.5,"s":"1C","k":"bc"},{"x":20,"y":3.52,"s":"1C","k":"bc"},{"x":48,"y":3.53,"s":"1C","k":"bc"},{"x":77,"y":3.57,"s":"1C","k":"bc"},{"x":90,"y":3.62,"s":"1C","k":"bc"},{"x":98,"y":3.68,"s":"1C","k":"bc"},{"x":103,"y":3.75,"s":"1C","k":"bc"},{"x":107,"y":3.84,"s":"1C","k":"bc"},{"x":110,"y":3.92,"s":"1C","k":"bc"},{"x":112,"y":4.0,"s":"1C","k":"bc"},
   {"x":0,"y":3.4,"s":"1C","k":"bd"},{"x":2,"y":3.36,"s":"1C","k":"bd"},{"x":10,"y":3.33,"s":"1C","k":"bd"},{"x":18,"y":3.3,"s":"1C","k":"bd"},{"x":30,"y":3.25,"s":"1C","k":"bd"},{"x":48,"y":3.18,"s":"1C","k":"bd"},{"x":60,"y":3.11,"s":"1C","k":"bd"},{"x":70,"y":3.04,"s":"1C","k":"bd"},{"x":77,"y":2.98,"s":"1C","k":"bd"},{"x":85,"y":2.88,"s":"1C","k":"bd"},{"x":92,"y":2.79,"s":"1C","k":"bd"},{"x":96,"y":2.69,"s":"1C","k":"bd"},{"x":98.5,"y":2.6,"s":"1C","k":"bd"},{"x":100.5,"y":2.5,"s":"1C","k":"bd"},
   {"x":0,"y":3.0,"s":"2C","k":"gc"},{"x":1,"y":3.45,"s":"2C","k":"gc"},{"x":4,"y":3.55,"s":"2C","k":"gc"},{"x":18,"y":3.57,"s":"2C","k":"gc"},{"x":40,"y":3.59,"s":"2C","k":"gc"},{"x":55,"y":3.62,"s":"2C","k":"gc"},{"x":63,"y":3.66,"s":"2C","k":"gc"},{"x":68,"y":3.71,"s":"2C","k":"gc"},{"x":72,"y":3.77,"s":"2C","k":"gc"},{"x":77,"y":3.85,"s":"2C","k":"gc"},{"x":82,"y":3.92,"s":"2C","k":"gc"},{"x":87,"y":4.0,"s":"2C","k":"gc"},
   {"x":0,"y":3.4,"s":"2C","k":"gd"},{"x":2,"y":3.34,"s":"2C","k":"gd"},{"x":10,"y":3.29,"s":"2C","k":"gd"},{"x":18,"y":3.25,"s":"2C","k":"gd"},{"x":27,"y":3.16,"s":"2C","k":"gd"},{"x":36,"y":3.07,"s":"2C","k":"gd"},{"x":44,"y":2.98,"s":"2C","k":"gd"},{"x":51,"y":2.9,"s":"2C","k":"gd"},{"x":57,"y":2.82,"s":"2C","k":"gd"},{"x":62.5,"y":2.73,"s":"2C","k":"gd"},{"x":67,"y":2.63,"s":"2C","k":"gd"},{"x":70,"y":2.55,"s":"2C","k":"gd"},{"x":72.5,"y":2.48,"s":"2C","k":"gd"}
  ]},
   "mark":{"type":"line","strokeWidth":1.8,"interpolate":"monotone"},
   "encoding":{"color":{"field":"s","type":"nominal","scale":{"domain":["0.2C","0.5C","1C","2C"],"range":["#111111","#e0262b","#2a2ad0","#3a9a3a"]},
     "legend":{"orient":"none","legendX":11,"legendY":77.5,"title":null,"symbolType":"stroke","symbolStrokeWidth":2.5,"symbolSize":225,"labelFontSize":11.5,"labelFontWeight":"bold","labelFont":"Liberation Sans","labelColor":"#111","rowPadding":0.6,"padding":0,"labelOffset":4}},
    "detail":{"field":"k"}}},
  {"data":{"values":[{"x":12.6,"y":4.05,"t":"(f)"}]},"mark":{"type":"text","fontSize":16,"fontWeight":"bold","color":"#111"},"encoding":{"text":{"field":"t"}}}
 ]
}
],
"config":{
 "font":"Liberation Sans",
 "view":{"stroke":"#000","strokeWidth":1.5},
 "axis":{"grid":false,"labelFont":"Liberation Sans","titleFont":"Liberation Sans","labelFontSize":11,"labelFontWeight":"bold","titleFontSize":11.5,"titleFontWeight":"bold","labelColor":"#111","titleColor":"#111","domainColor":"#000","domainWidth":1.5,"tickColor":"#000","tickSize":4,"tickWidth":1.2,"labelPadding":2,"titlePadding":3}
}
}
